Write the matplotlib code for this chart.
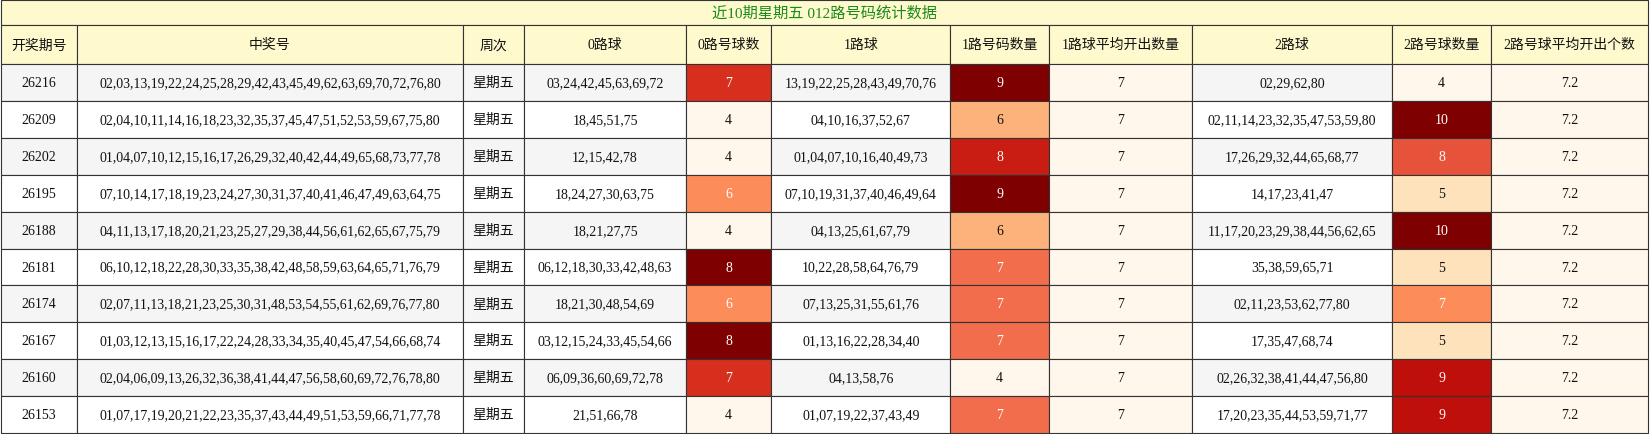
import matplotlib
matplotlib.use("Agg")
import matplotlib.pyplot as plt
from matplotlib.patches import Rectangle
from matplotlib import cm, colors

plt.rcParams['font.family'] = ['Liberation Serif', 'Noto Sans CJK SC', 'DejaVu Sans']

title = "近10期星期五 012路号码统计数据"
headers = ["开奖期号", "中奖号", "周次", "0路球", "0路号球数", "1路球", "1路号码数量",
           "1路球平均开出数量", "2路球", "2路号球数量", "2路号球平均开出个数"]
periods = ["26216", "26209", "26202", "26195", "26188", "26181", "26174", "26167", "26160", "26153"]
winning = [
    "02,03,13,19,22,24,25,28,29,42,43,45,49,62,63,69,70,72,76,80",
    "02,04,10,11,14,16,18,23,32,35,37,45,47,51,52,53,59,67,75,80",
    "01,04,07,10,12,15,16,17,26,29,32,40,42,44,49,65,68,73,77,78",
    "07,10,14,17,18,19,23,24,27,30,31,37,40,41,46,47,49,63,64,75",
    "04,11,13,17,18,20,21,23,25,27,29,38,44,56,61,62,65,67,75,79",
    "06,10,12,18,22,28,30,33,35,38,42,48,58,59,63,64,65,71,76,79",
    "02,07,11,13,18,21,23,25,30,31,48,53,54,55,61,62,69,76,77,80",
    "01,03,12,13,15,16,17,22,24,28,33,34,35,40,45,47,54,66,68,74",
    "02,04,06,09,13,26,32,36,38,41,44,47,56,58,60,69,72,76,78,80",
    "01,07,17,19,20,21,22,23,35,37,43,44,49,51,53,59,66,71,77,78",
]
weekday = ["星期五"] * 10
road0 = ["03,24,42,45,63,69,72", "18,45,51,75", "12,15,42,78", "18,24,27,30,63,75", "18,21,27,75",
         "06,12,18,30,33,42,48,63", "18,21,30,48,54,69", "03,12,15,24,33,45,54,66",
         "06,09,36,60,69,72,78", "21,51,66,78"]
count0 = [7, 4, 4, 6, 4, 8, 6, 8, 7, 4]
road1 = ["13,19,22,25,28,43,49,70,76", "04,10,16,37,52,67", "01,04,07,10,16,40,49,73",
         "07,10,19,31,37,40,46,49,64", "04,13,25,61,67,79", "10,22,28,58,64,76,79",
         "07,13,25,31,55,61,76", "01,13,16,22,28,34,40", "04,13,58,76", "01,07,19,22,37,43,49"]
count1 = [9, 6, 8, 9, 6, 7, 7, 7, 4, 7]
avg1 = [7] * 10
road2 = ["02,29,62,80", "02,11,14,23,32,35,47,53,59,80", "17,26,29,32,44,65,68,77",
         "14,17,23,41,47", "11,17,20,23,29,38,44,56,62,65", "35,38,59,65,71",
         "02,11,23,53,62,77,80", "17,35,47,68,74", "02,26,32,38,41,44,47,56,80",
         "17,20,23,35,44,53,59,71,77"]
count2 = [4, 10, 8, 5, 10, 5, 7, 5, 9, 9]
avg2 = [7.2] * 10

columns = [periods, winning, weekday, road0, count0, road1, count1, avg1, road2, count2, avg2]
heat_cols = {4: count0, 6: count1, 7: avg1, 9: count2, 10: avg2}

W, H = 1568, 413
xb = [1, 73, 440, 498, 652, 733, 903, 997, 1133, 1323, 1417, 1566]
title_h = 25
head_h = 37
row_h = (H - 1 - title_h - head_h) / 10

fig = plt.figure(figsize=(16.5, 4.35), dpi=100)
ax = fig.add_axes([0, 0, 1, 1])
ax.set_xlim(0, W)
ax.set_ylim(H, 0)
ax.axis('off')

edge = '#333333'
cmap = plt.get_cmap('OrRd')

def cell(x0, x1, y0, y1, fc, text, tc='#111111', size=10):
    ax.add_patch(Rectangle((x0, y0), x1 - x0, y1 - y0, facecolor=fc, edgecolor=edge, lw=0.8))
    ax.text((x0 + x1) / 2, (y0 + y1) / 2, text, ha='center', va='center', color=tc, fontsize=size)

cell(xb[0], xb[-1], 1, title_h, '#fffacd', title, tc='#1a8a1a', size=11)
for j, h in enumerate(headers):
    cell(xb[j], xb[j + 1], title_h, title_h + head_h, '#fffacd', h)

for i in range(10):
    y0 = title_h + head_h + i * row_h
    y1 = y0 + row_h
    base = '#f5f5f5' if i % 2 == 0 else '#ffffff'
    for j, col in enumerate(columns):
        v = col[i]
        if j in heat_cols:
            vals = heat_cols[j]
            lo, hi = min(vals), max(vals)
            t = 0.0 if hi == lo else (v - lo) / (hi - lo)
            fc = cmap(t)
            tc = 'white' if t >= 0.5 else '#111111'
            cell(xb[j], xb[j + 1], y0, y1, fc, str(v), tc=tc)
        else:
            cell(xb[j], xb[j + 1], y0, y1, base, str(v))

fig.savefig('out.png', dpi=100)
